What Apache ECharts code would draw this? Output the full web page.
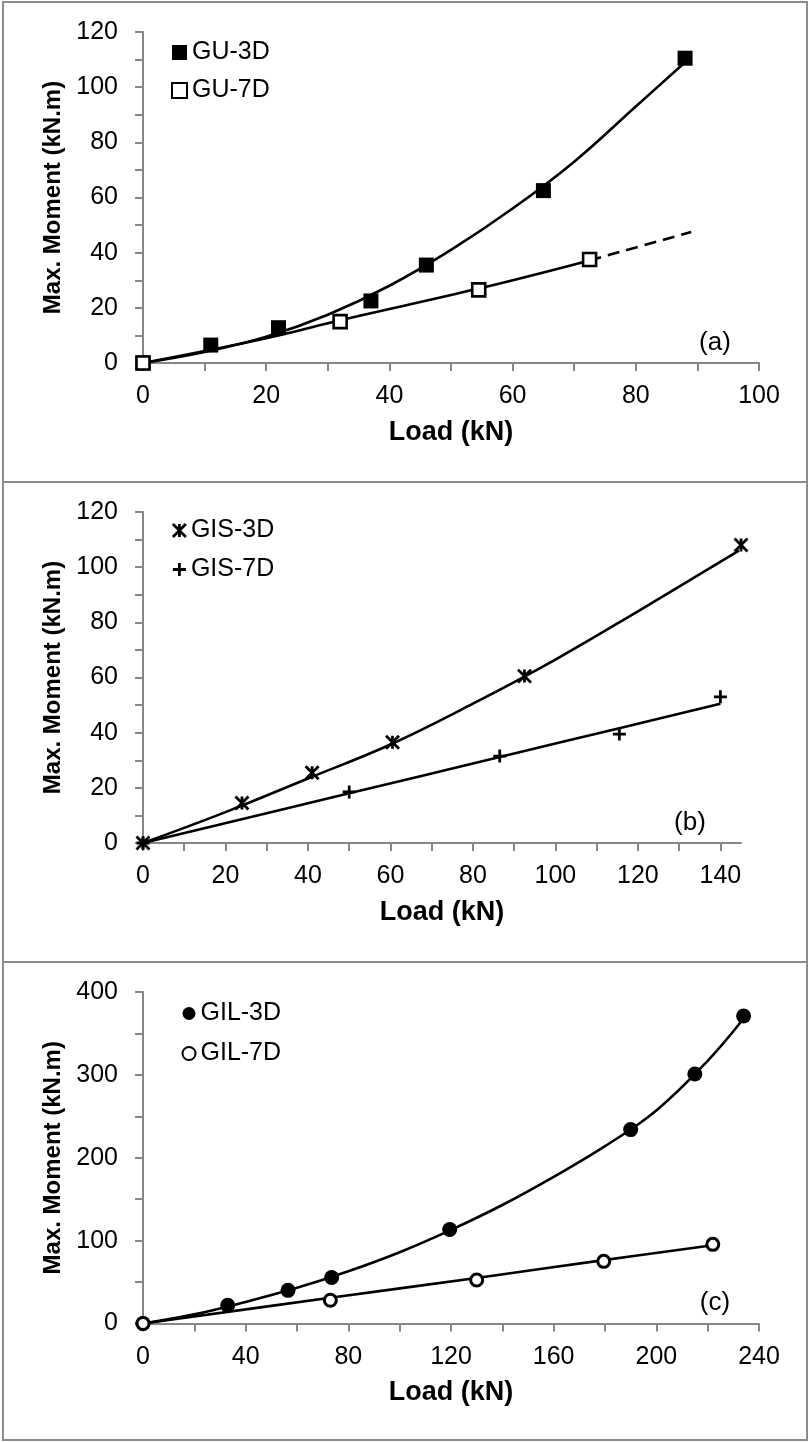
<!DOCTYPE html>
<html>
<head>
<meta charset="utf-8">
<script src="https://cdn.jsdelivr.net/npm/echarts@6/dist/echarts.min.js"></script>
<style>
    html, body { margin: 0; padding: 0; background: #fff; }
    #chart { width: 809px; height: 1442px; }
</style>
</head>
<body>
<div id="chart"></div>
<script>
// ---- panel (a) ----
var guLoad3D = [0, 11, 22, 37, 46, 65, 88];
var guMom3D = [0, 6.5, 12.8, 22.5, 35.5, 62.5, 110.5];
var guLoad7D = [0, 32, 54.5, 72.5];
var guMom7D = [0, 15, 26.5, 37.5];
// trend lines
var guTrendLoad3D = [0, 10, 20, 30, 40, 50, 60, 70, 80, 88];
var guTrendMom3D = [0, 4, 9.5, 17.5, 28, 41, 56, 73, 93, 109];
var guTrendLoad7D = [0, 11, 22, 32, 54.5, 72.5];
var guTrendMom7D = [0, 4.8, 10, 15.5, 27, 37.2];
var guExtLoad7D = [72.5, 89];
var guExtMom7D = [37.2, 47.5];

// ---- panel (b) ----
var gisLoad3D = [0, 24, 41, 60.5, 92.5, 145];
var gisMom3D = [0, 14.5, 25.5, 36.5, 60.5, 108];
var gisLoad7D = [0, 50, 86.5, 115.5, 140];
var gisMom7D = [0, 18.5, 31.5, 39.5, 53];
var gisTrendLoad3D = [0, 20, 40, 60, 80, 100, 120, 144.5];
var gisTrendMom3D = [0, 11.2, 23.4, 35.7, 50.5, 66.5, 84, 106];
var gisTrendLoad7D = [0, 50, 86.5, 115.5, 140];
var gisTrendMom7D = [0, 18, 31.2, 41.6, 50.5];

// ---- panel (c) ----
var gilLoad3D = [0, 33, 56.5, 73.5, 119.5, 190, 215, 234];
var gilMom3D = [0, 22, 40, 55.5, 113.5, 234, 301, 371];
var gilLoad7D = [0, 73, 130, 179.5, 222];
var gilMom7D = [0, 28, 52.5, 75, 95.5];
var gilTrendLoad3D = [0, 20, 40, 60, 80, 100, 120, 140, 160, 180, 200, 220, 234];
var gilTrendMom3D = [0, 11, 26, 43, 63, 86, 113, 143, 177, 214, 257, 317, 368];
var gilTrendLoad7D = [0, 73, 130, 179.5, 222];
var gilTrendMom7D = [0, 31, 55, 76.5, 94.5];

// axis ticks / labels
var xTicksA = [0, 10, 20, 30, 40, 50, 60, 70, 80, 90, 100];
var xLabelsA = [0, 20, 40, 60, 80, 100];
var yTicksA = [0, 10, 20, 30, 40, 50, 60, 70, 80, 90, 100, 110, 120];
var yLabelsA = [0, 20, 40, 60, 80, 100, 120];
var xTicksB = [0, 10, 20, 30, 40, 50, 60, 70, 80, 90, 100, 110, 120, 130, 140];
var xLabelsB = [0, 20, 40, 60, 80, 100, 120, 140];
var xTicksC = [0, 20, 40, 60, 80, 100, 120, 140, 160, 180, 200, 220, 240];
var xLabelsC = [0, 40, 80, 120, 160, 200, 240];
var yTicksC = [0, 50, 100, 150, 200, 250, 300, 350, 400];
var yLabelsC = [0, 100, 200, 300, 400];

function pairs(xs, ys) {
    return xs.map(function (x, i) { return [x, ys[i]]; });
}

var font = '"Liberation Sans", Arial, sans-serif';
var axisGray = '#868686';
var frameGray = '#8c8c8c';

function xAxis(idx, max, interval, ticks, labels) {
    return {
        type: 'value', gridIndex: idx, min: 0, max: max, interval: interval,
        name: 'Load (kN)', nameLocation: 'middle', nameGap: 56,
        nameTextStyle: { fontFamily: font, fontSize: 27, fontWeight: 'bold', color: '#000' },
        axisLine: { lineStyle: { color: axisGray, width: 2 } },
        axisTick: { inside: false, length: 8, customValues: ticks, lineStyle: { color: axisGray, width: 2 } },
        axisLabel: { customValues: labels, margin: 21, fontFamily: font, fontSize: 25, color: '#000' },
        splitLine: { show: false }
    };
}

function yAxis(idx, max, interval, ticks, labels) {
    return {
        type: 'value', gridIndex: idx, min: 0, max: max, interval: interval,
        name: 'Max. Moment (kN.m)', nameLocation: 'middle', nameGap: 75,
        nameTextStyle: { fontFamily: font, fontSize: 24, fontWeight: 'bold', color: '#000' },
        axisLine: { show: true, lineStyle: { color: axisGray, width: 2 } },
        axisTick: { show: true, inside: false, length: 8, customValues: ticks, lineStyle: { color: axisGray, width: 2 } },
        axisLabel: { customValues: labels, margin: 25, fontFamily: font, fontSize: 25, color: '#000' },
        splitLine: { show: false }
    };
}

function trend(idx, data, dashed) {
    return {
        type: 'line', xAxisIndex: idx, yAxisIndex: idx, data: data,
        smooth: 0.4, showSymbol: false, silent: true,
        lineStyle: { color: '#000', width: 2.6, type: dashed ? [12, 7] : 'solid' }
    };
}

function points(idx, name, data, symbol, size, style) {
    return {
        type: 'scatter', name: name, xAxisIndex: idx, yAxisIndex: idx, data: data,
        symbol: symbol, symbolSize: size, itemStyle: style, z: 5
    };
}

var filled = { color: '#000', borderColor: '#000', borderWidth: 0, opacity: 1 };
var hollow = { color: '#fff', borderColor: '#000', borderWidth: 2.6, opacity: 1 };
var hollowRound = { color: '#fff', borderColor: '#000', borderWidth: 3, opacity: 1 };
var stroked = { color: '#000', borderColor: '#000', borderWidth: 2.8, opacity: 1 };
var asterisk = 'path://M0,0L10,10M10,0L0,10M5,0L5,10';
var plus = 'path://M5,0L5,10M0,5L10,5';

var legendText = { fontFamily: font, fontSize: 25, color: '#000' };

var myChart = echarts.init(document.getElementById('chart'), null, { renderer: 'canvas' });

var option = {
    backgroundColor: '#fff',
    animation: false,
    grid: [
        { left: 143, top: 32, width: 616, height: 331, containLabel: false, outerBoundsMode: 'none' },
        { left: 143, top: 512, width: 598, height: 331, containLabel: false, outerBoundsMode: 'none' },
        { left: 143, top: 992, width: 616, height: 331.5, containLabel: false, outerBoundsMode: 'none' }
    ],
    xAxis: [
        xAxis(0, 100, 20, xTicksA, xLabelsA),
        xAxis(1, 145, 20, xTicksB, xLabelsB),
        xAxis(2, 240, 40, xTicksC, xLabelsC)
    ],
    yAxis: [
        yAxis(0, 120, 20, yTicksA, yLabelsA),
        yAxis(1, 120, 20, yTicksA, yLabelsA),
        yAxis(2, 400, 100, yTicksC, yLabelsC)
    ],
    legend: [
        {
            data: ['GU-3D', 'GU-7D'], orient: 'vertical', left: 171, top: 40, padding: 0,
            itemGap: 13, itemWidth: 15, itemHeight: 15, selectedMode: false, textStyle: legendText
        },
        {
            data: ['GIS-3D', 'GIS-7D'], orient: 'vertical', left: 171.5, top: 518, padding: 0,
            itemGap: 14, itemWidth: 13, itemHeight: 13, selectedMode: false, textStyle: legendText,
            itemStyle: { borderWidth: 2.8 }
        },
        {
            data: ['GIL-3D', 'GIL-7D'], orient: 'vertical', left: 181.5, top: 1001, padding: 0,
            itemGap: 15, itemWidth: 13, itemHeight: 13, selectedMode: false, textStyle: legendText
        }
    ],
    graphic: [
        { type: 'rect', shape: { x: 3, y: 2, width: 804, height: 480 }, style: { fill: 'none', stroke: frameGray, lineWidth: 2 }, silent: true },
        { type: 'rect', shape: { x: 3, y: 482, width: 804, height: 480 }, style: { fill: 'none', stroke: frameGray, lineWidth: 2 }, silent: true },
        { type: 'rect', shape: { x: 3, y: 962, width: 804, height: 478 }, style: { fill: 'none', stroke: frameGray, lineWidth: 2 }, silent: true },
        { type: 'text', x: 715, y: 343, style: { text: '(a)', fontFamily: font, fontSize: 26, fill: '#000', align: 'center', verticalAlign: 'middle' } },
        { type: 'text', x: 690, y: 823, style: { text: '(b)', fontFamily: font, fontSize: 26, fill: '#000', align: 'center', verticalAlign: 'middle' } },
        { type: 'text', x: 715, y: 1303, style: { text: '(c)', fontFamily: font, fontSize: 26, fill: '#000', align: 'center', verticalAlign: 'middle' } }
    ],
    series: [
        trend(0, pairs(guTrendLoad3D, guTrendMom3D)),
        trend(0, pairs(guTrendLoad7D, guTrendMom7D)),
        trend(0, pairs(guExtLoad7D, guExtMom7D), true),
        points(0, 'GU-3D', pairs(guLoad3D, guMom3D), 'rect', 15, filled),
        points(0, 'GU-7D', pairs(guLoad7D, guMom7D), 'rect', 13, hollow),

        trend(1, pairs(gisTrendLoad3D, gisTrendMom3D)),
        trend(1, pairs(gisTrendLoad7D, gisTrendMom7D)),
        points(1, 'GIS-3D', pairs(gisLoad3D, gisMom3D), asterisk, 13, stroked),
        points(1, 'GIS-7D', pairs(gisLoad7D, gisMom7D), plus, 13, stroked),

        trend(2, pairs(gilTrendLoad3D, gilTrendMom3D)),
        trend(2, pairs(gilTrendLoad7D, gilTrendMom7D)),
        points(2, 'GIL-3D', pairs(gilLoad3D, gilMom3D), 'circle', 15, filled),
        points(2, 'GIL-7D', pairs(gilLoad7D, gilMom7D), 'circle', 12, hollowRound)
    ]
};

myChart.setOption(option, true);
</script>
</body>
</html>
